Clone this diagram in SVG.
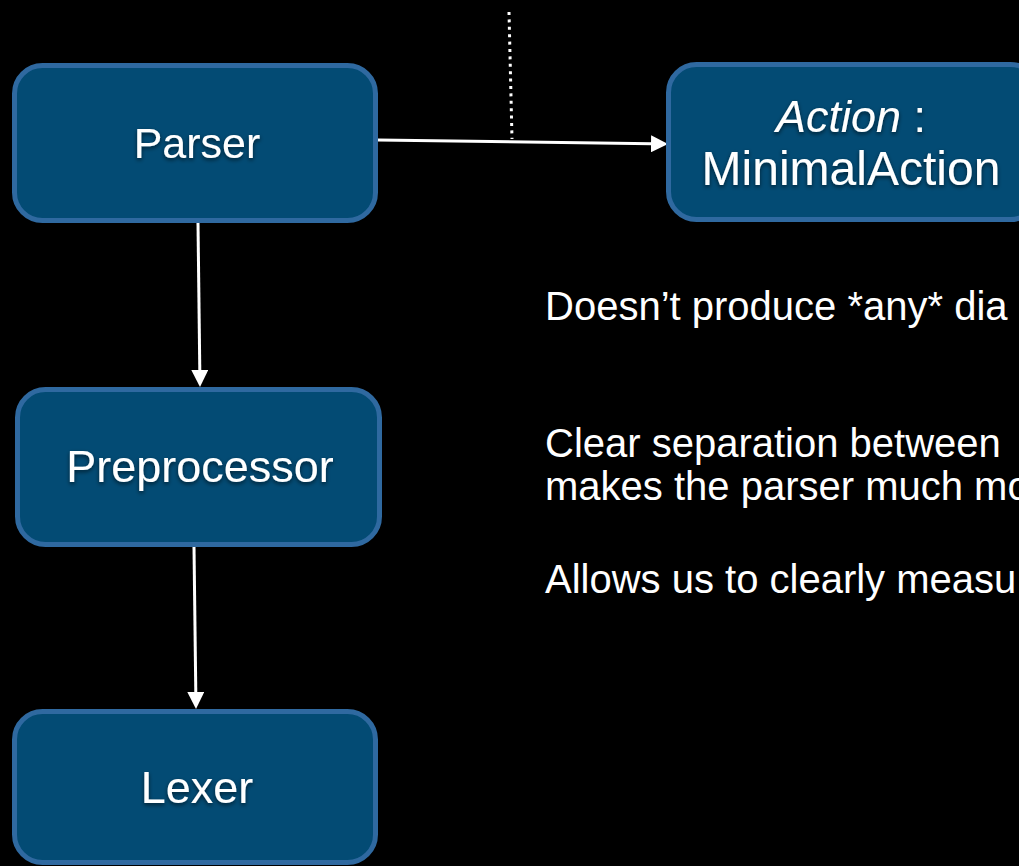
<svg xmlns="http://www.w3.org/2000/svg" width="1019" height="866" viewBox="0 0 1019 866">
  <defs>
    <style>
      .box { fill: #034b74; stroke: #2f69a0; stroke-width: 5; }
      .label { font-family: "Liberation Sans", Arial, sans-serif; font-size: 45px; fill: #ffffff; text-anchor: middle; filter: url(#txtShadow); }
      .note { font-family: "Liberation Sans", Arial, sans-serif; font-size: 40px; fill: #ffffff; }
      .edge { stroke: #ffffff; stroke-width: 3; fill: none; }
      .dotted { stroke: #ffffff; stroke-width: 3; stroke-dasharray: 3 4.4; fill: none; }
    </style>
    <filter id="txtShadow" x="-10%" y="-30%" width="120%" height="160%">
      <feDropShadow dx="0" dy="2" stdDeviation="2" flood-color="#000000" flood-opacity="0.6"/>
    </filter>
    <marker id="arrow" viewBox="0 0 17 17" refX="1" refY="8.5" markerWidth="17" markerHeight="17" markerUnits="userSpaceOnUse" orient="auto">
      <path d="M0,0 L17,8.5 L0,17 Z" fill="#ffffff"/>
    </marker>
  </defs>

  <rect width="1019" height="866" fill="#000000"/>

  <!-- connectors -->
  <g id="connectors">
    <path class="dotted" d="M509,12 L512,139"/>
    <path class="edge" d="M378,140 L652,143.8" marker-end="url(#arrow)"/>
    <path class="edge" d="M198,223 L199.8,371" marker-end="url(#arrow)"/>
    <path class="edge" d="M194,547 L195.8,693" marker-end="url(#arrow)"/>
  </g>

  <g id="parser">
    <rect class="box" x="14.5" y="65.5" width="361" height="155" rx="28"/>
    <text class="label" x="197" y="158" style="font-size:43px">Parser</text>
  </g>

  <g id="action">
    <rect class="box" x="668.5" y="64.5" width="370" height="155" rx="28"/>
    <text class="label" x="851" y="132"><tspan font-style="italic">Action</tspan> :</text>
    <text class="label" x="851" y="185" style="font-size:48px">MinimalAction</text>
  </g>

  <g id="preprocessor">
    <rect class="box" x="17.5" y="389.5" width="362" height="155" rx="28"/>
    <text class="label" x="200" y="482">Preprocessor</text>
  </g>

  <g id="lexer">
    <rect class="box" x="14.5" y="711.5" width="361" height="151" rx="28"/>
    <text class="label" x="197" y="803">Lexer</text>
  </g>

  <g id="notes">
    <text class="note" x="545" y="320">Doesn’t produce *any* dia</text>
    <text class="note" x="545" y="457">Clear separation between</text>
    <text class="note" x="545" y="500">makes the parser much mo</text>
    <text class="note" x="545" y="593">Allows us to clearly measu</text>
  </g>
</svg>
